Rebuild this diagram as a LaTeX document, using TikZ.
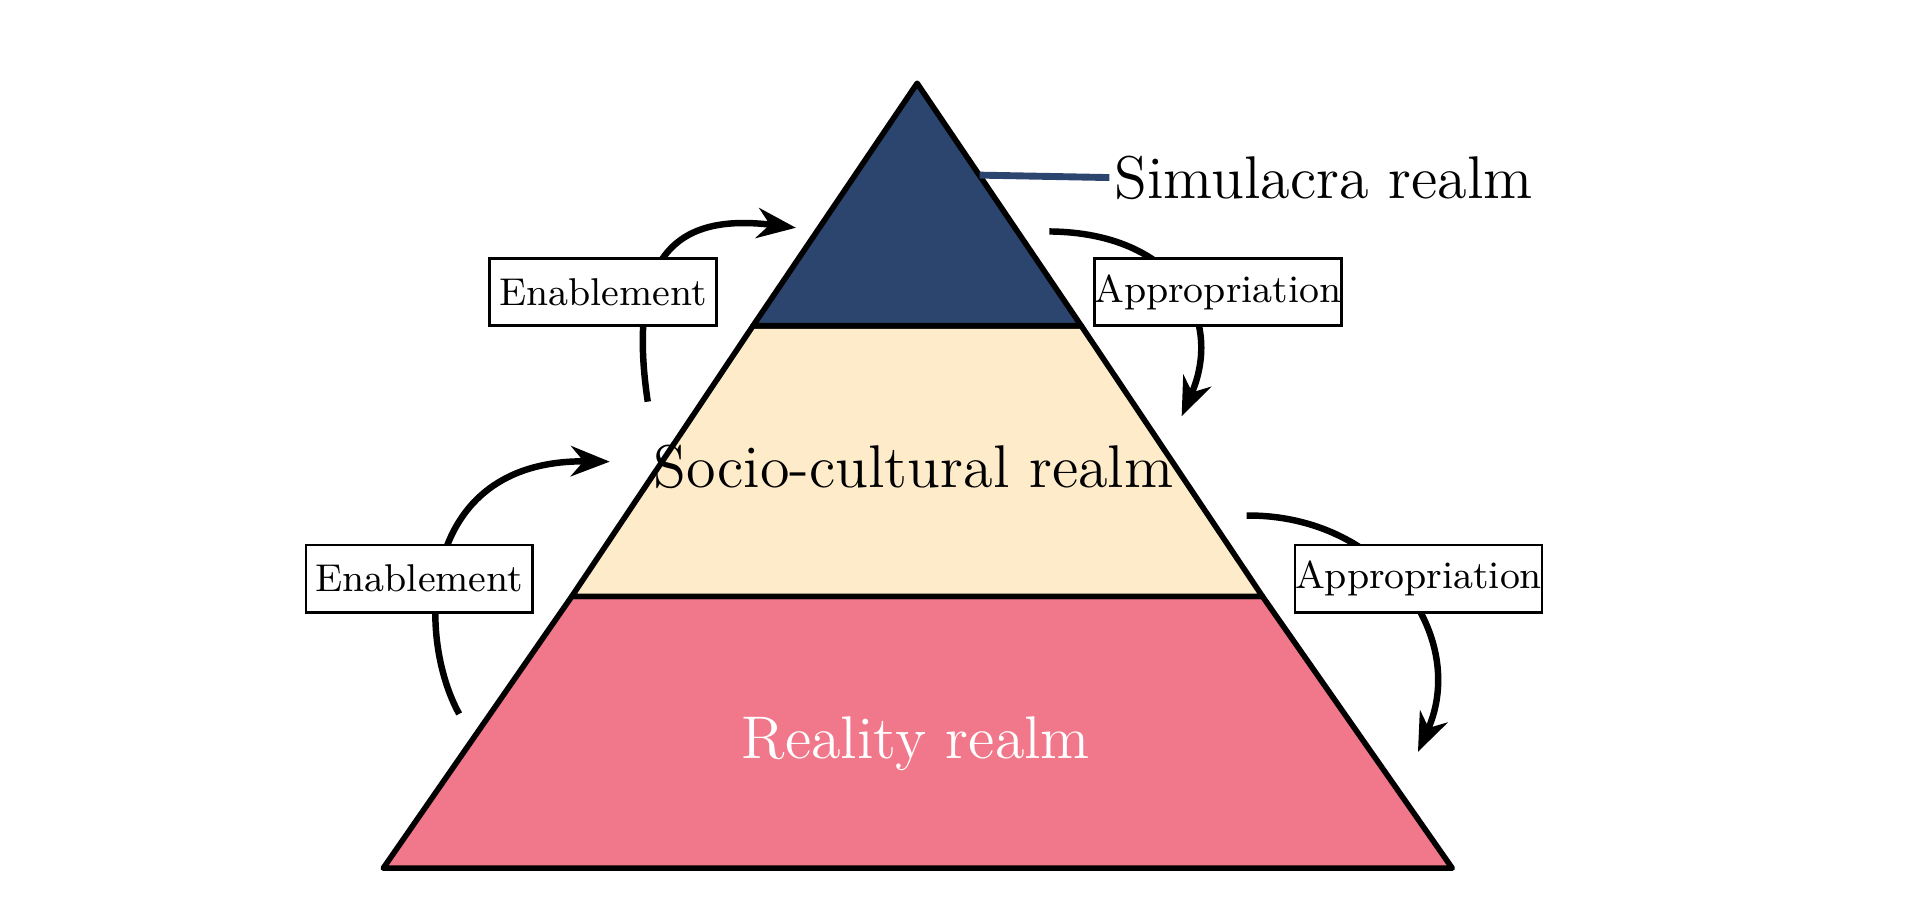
\documentclass[tikz,border=0pt]{standalone}
\usetikzlibrary{arrows.meta}
\definecolor{simnavy}{HTML}{2C456E}
\definecolor{sociocream}{HTML}{FDEBCA}
\definecolor{realpink}{HTML}{F0788A}
\tikzset{>={Stealth[length=9pt,width=7pt]}}
\tikzset{ realm/.style={draw=black,line width=1.3pt,line join=round}, flow/.style={->,line width=1.5pt}, tag/.style={draw=black,fill=white,line width=0.6pt,minimum width=1.85cm,minimum height=0.55cm,font=\fontsize{9}{10}\selectfont,inner sep=0pt} }

\begin{document}
\begin{tikzpicture}[x=0.01cm,y=-0.01cm]
  \useasboundingbox (0,0) rectangle (1568,735);
  % layers
  \coordinate (apex) at (749,68);
  \coordinate (bl) at (313,709);
  \coordinate (br) at (1186,709);
  \filldraw[realm,fill=realpink] (467,487) -- (1031,487) -- (br) -- (bl) -- cycle;
  \filldraw[realm,fill=sociocream] (615,266) -- (883,266) -- (1031,487) -- (467,487) -- cycle;
  \filldraw[realm,fill=simnavy] (apex) -- (883,266) -- (615,266) -- cycle;
  % layer labels
  \node[font=\fontsize{14}{16}\selectfont] (socio) at (746,381) {Socio-cultural realm};
  \node[font=\fontsize{14}{16}\selectfont,text=white] (reality) at (748,607) {Reality realm};
  \node[anchor=west,font=\fontsize{14}{16}\selectfont,inner sep=1pt] (simul) at (906,145) {Simulacra realm};
  \draw[simnavy,line width=1.6pt] (800,143) -- (simul.west);
  % cycles
  \draw[flow] (529,328) .. controls (510,200) and (560,175) .. (650,186);
  \draw[flow] (857,189) .. controls (960,190) and (1000,260) .. (965,340);
  \draw[flow] (375,583) .. controls (340,520) and (340,375) .. (498,377);
  \draw[flow] (1018,421) .. controls (1130,420) and (1200,520) .. (1158,614);
  \node[tag] (en1) at (492.5,238.5) {Enablement};
  \node[tag] (ap1) at (994.5,238.5) {Appropriation};
  \node[tag] (en2) at (342.5,472.5) {Enablement};
  \node[tag] (ap2) at (1158.5,472.5) {Appropriation};
\end{tikzpicture}
\end{document}
